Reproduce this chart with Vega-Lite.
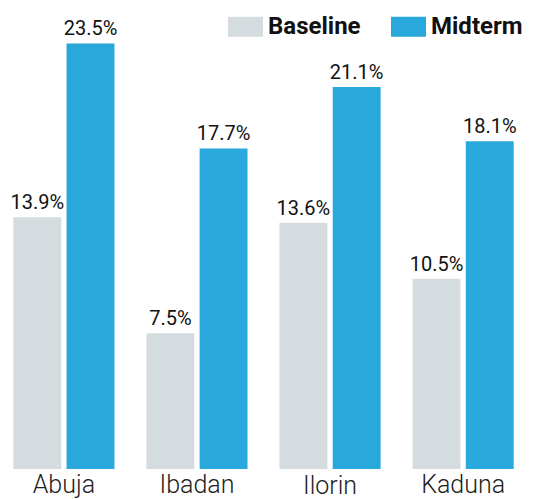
{
  "$schema": "https://vega.github.io/schema/vega-lite/v6.json",
  "width": 527,
  "height": 469,
  "padding": {"left": 0, "top": 0, "right": 12, "bottom": 30},
  "autosize": {"type": "none"},
  "config": {"view": {"stroke": null}, "font": "Roboto"},
  "data": {
    "values": [
      {"city": "Abuja", "phase": "Baseline", "value": 13.9},
      {"city": "Abuja", "phase": "Midterm", "value": 23.5},
      {"city": "Ibadan", "phase": "Baseline", "value": 7.5},
      {"city": "Ibadan", "phase": "Midterm", "value": 17.7},
      {"city": "Ilorin", "phase": "Baseline", "value": 13.6},
      {"city": "Ilorin", "phase": "Midterm", "value": 21.1},
      {"city": "Kaduna", "phase": "Baseline", "value": 10.5},
      {"city": "Kaduna", "phase": "Midterm", "value": 18.1}
    ]
  },
  "transform": [{"calculate": "format(datum.value, '.1f') + '%'", "as": "label"}],
  "encoding": {
    "x": {
      "field": "city", "type": "nominal", "sort": null, "title": null,
      "scale": {"paddingInner": 0.24, "paddingOuter": 0.1},
      "axis": {
        "domain": false, "ticks": false, "labelAngle": 0,
        "labelFontSize": 25, "labelFont": "Roboto", "labelFontWeight": 300,
        "labelColor": "#222222",
        "labelPadding": {"condition": {"test": "datum.value == 'Ilorin'", "value": 4}, "value": 3}
      }
    },
    "xOffset": {"field": "phase", "type": "nominal", "scale": {"paddingInner": 0.1}},
    "y": {"field": "value", "type": "quantitative", "scale": {"domain": [0, 25.9]}, "axis": null}
  },
  "layer": [
    {
      "mark": {"type": "bar"},
      "encoding": {
        "color": {
          "field": "phase", "type": "nominal", "title": null,
          "scale": {"domain": ["Baseline", "Midterm"], "range": ["#d5dcdf", "#29a8dc"]},
          "legend": {
            "orient": "none", "direction": "horizontal",
            "legendX": 228, "legendY": 9,
            "symbolType": "M-1,-0.57H1V0.57H-1Z", "symbolSize": 1225,
            "symbolStrokeWidth": 0, "symbolOpacity": 1,
            "labelFont": "Roboto", "labelFontSize": 24, "labelFontWeight": "bold",
            "labelColor": "#111111", "labelOffset": 5, "columnPadding": 30
          }
        }
      }
    },
    {
      "mark": {"type": "text", "baseline": "bottom", "dy": -4, "fontSize": 20, "font": "Roboto", "color": "#111111"},
      "encoding": {"text": {"field": "label"}}
    }
  ]
}
